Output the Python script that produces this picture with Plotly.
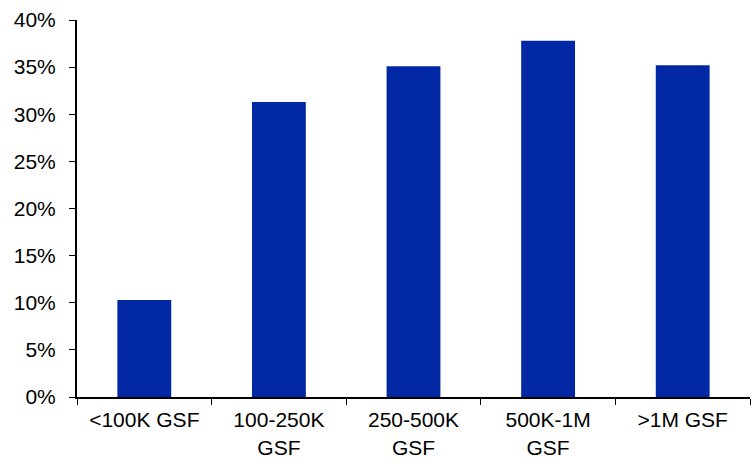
import plotly.graph_objects as go

categories = ["<100K GSF", "100-250K<br>GSF", "250-500K<br>GSF", "500K-1M<br>GSF", ">1M GSF"]
shares = [10.3, 31.3, 35.1, 37.8, 35.2]
y_ticks = [0, 5, 10, 15, 20, 25, 30, 35, 40]
y_tick_labels = [f"{v}%" for v in y_ticks]

fig = go.Figure(
    go.Bar(
        x=categories,
        y=shares,
        marker=dict(color="#0028A5", line=dict(width=0)),
        hoverinfo="x+y",
    )
)

fig.update_layout(
    width=753,
    height=460,
    margin=dict(l=77, r=3, t=20, b=63),
    paper_bgcolor="white",
    plot_bgcolor="white",
    bargap=0.6,
    showlegend=False,
    font=dict(family="Liberation Sans, Arial, sans-serif", size=21, color="black"),
)

fig.update_xaxes(
    showline=True,
    linecolor="black",
    linewidth=2,
    ticks="outside",
    tickson="boundaries",
    ticklen=6,
    tickwidth=1,
    tickcolor="black",
    showgrid=False,
    tickfont=dict(size=21),
    ticklabelstandoff=3,
    automargin=False,
)

fig.update_yaxes(
    range=[0, 40],
    tickmode="array",
    tickvals=y_ticks,
    ticktext=y_tick_labels,
    showline=True,
    linecolor="black",
    linewidth=2,
    ticks="outside",
    ticklen=6,
    tickwidth=1,
    tickcolor="black",
    showgrid=False,
    zeroline=False,
    tickfont=dict(size=21),
    ticklabelstandoff=9,
    automargin=False,
)

fig.write_html("out.html")
